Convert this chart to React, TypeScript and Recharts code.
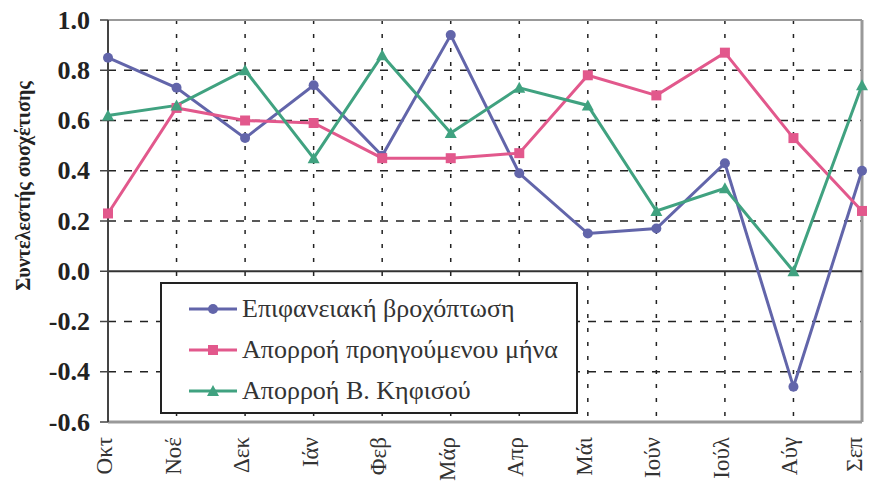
import React from "react";
import {
  LineChart,
  Line,
  XAxis,
  YAxis,
  CartesianGrid,
  ReferenceLine,
  Customized,
} from "recharts";

const MONTHS = ["Οκτ", "Νοέ", "Δεκ", "Ιάν", "Φεβ", "Μάρ", "Απρ", "Μάι", "Ιούν", "Ιούλ", "Αύγ", "Σεπ"];
const RAIN = [0.85, 0.73, 0.53, 0.74, 0.46, 0.94, 0.39, 0.15, 0.17, 0.43, -0.46, 0.4];
const PREV_RUNOFF = [0.23, 0.65, 0.6, 0.59, 0.45, 0.45, 0.47, 0.78, 0.7, 0.87, 0.53, 0.24];
const KIFISOS = [0.62, 0.66, 0.8, 0.45, 0.86, 0.55, 0.73, 0.66, 0.24, 0.33, 0.0, 0.74];
const Y_TICKS = [-0.6, -0.4, -0.2, 0.0, 0.2, 0.4, 0.6, 0.8, 1.0];
const GRID_Y = [-0.4, -0.2, 0.2, 0.4, 0.6, 0.8];

const SERIES = [
  { key: "rain", name: "Επιφανειακή βροχόπτωση", color: "#6265aa", shape: "circle" },
  { key: "prev", name: "Απορροή προηγούμενου μήνα", color: "#e2588c", shape: "square" },
  { key: "kif", name: "Απορροή Β. Κηφισού", color: "#40a280", shape: "triangle" },
];

const data = MONTHS.map((m, i) => ({
  month: m,
  rain: RAIN[i],
  prev: PREV_RUNOFF[i],
  kif: KIFISOS[i],
}));

const FONT = "'Liberation Serif', 'Times New Roman', serif";

function Marker({ cx, cy, shape, color }: { cx: number; cy: number; shape: string; color: string }) {
  if (cx == null || cy == null) return null;
  if (shape === "square") return <rect x={cx - 5} y={cy - 5} width={10} height={10} fill={color} />;
  if (shape === "triangle")
    return <polygon points={`${cx},${cy - 6} ${cx + 6},${cy + 5} ${cx - 6},${cy + 5}`} fill={color} />;
  return <circle cx={cx} cy={cy} r={5} fill={color} />;
}

function XTick({ x, payload }: any) {
  // rotated labels, last one kept inside the picture
  const tx = Math.min(x + 4, 862);
  const ty = 437;
  return (
    <text
      x={tx}
      y={ty}
      transform={`rotate(-90 ${tx} ${ty})`}
      textAnchor="end"
      fontFamily={FONT}
      fontSize={23}
      fill="#333"
    >
      {payload.value}
    </text>
  );
}

function YTick({ x, y, payload }: any) {
  return (
    <text
      x={x}
      y={y}
      textAnchor="end"
      dominantBaseline="central"
      fontFamily={FONT}
      fontSize={26}
      fontWeight="bold"
      fill="#222"
    >
      {Number(payload.value).toFixed(1)}
    </text>
  );
}

function YLabel() {
  return (
    <text
      x={23}
      y={186}
      transform="rotate(-90 23 186)"
      textAnchor="middle"
      dominantBaseline="central"
      fontFamily={FONT}
      fontWeight="bold"
      fontSize={20}
      fill="#222"
    >
      Συντελεστής συσχέτισης
    </text>
  );
}

function LegendBox() {
  return (
    <div
      style={{
        position: "absolute",
        left: 160,
        top: 282,
        width: 414,
        height: 124,
        background: "#fff",
        border: "2px solid #222",
        fontFamily: FONT,
        fontSize: 26,
        color: "#333",
        paddingTop: 4,
        boxSizing: "content-box",
        whiteSpace: "nowrap",
      }}
    >
      {SERIES.map((s) => (
        <div key={s.key} style={{ display: "flex", alignItems: "center", height: 41, paddingLeft: 27 }}>
          <svg width={48} height={16} style={{ marginRight: 5, flexShrink: 0 }}>
            <line x1={0} y1={8} x2={48} y2={8} stroke={s.color} strokeWidth={3} />
            <Marker cx={24} cy={8} shape={s.shape} color={s.color} />
          </svg>
          <span>{s.name}</span>
        </div>
      ))}
    </div>
  );
}

export default function App() {
  return (
    <div style={{ position: "absolute", left: 0, top: 0, width: 869, height: 485, background: "#fff" }}>
      <LineChart width={869} height={485} data={data} margin={{ top: 20, right: 7, bottom: 0, left: 0 }}>
        <CartesianGrid horizontal={false} stroke="#222" strokeWidth={1.5} strokeDasharray="4 10" />
        {GRID_Y.map((v) => (
          <ReferenceLine key={v} y={v} stroke="#222" strokeWidth={1.5} strokeDasharray="8 8" />
        ))}
        <ReferenceLine y={1.0} stroke="#999" strokeWidth={2} />
        <ReferenceLine x="Σεπ" stroke="#999" strokeWidth={3} />
        <ReferenceLine y={0} stroke="#333" strokeWidth={2} />
        <XAxis
          dataKey="month"
          height={63}
          interval={0}
          tickLine={false}
          axisLine={{ stroke: "#999", strokeWidth: 3 }}
          tick={<XTick />}
        />
        <YAxis
          width={108}
          domain={[-0.6, 1.0]}
          ticks={Y_TICKS}
          interval={0}
          tickSize={8}
          tickMargin={10}
          tick={<YTick />}
          tickLine={{ stroke: "#444", strokeWidth: 1.5 }}
          axisLine={{ stroke: "#444", strokeWidth: 2 }}
        />
        {SERIES.map((s) => (
          <Line
            key={s.key}
            dataKey={s.key}
            name={s.name}
            type="linear"
            stroke={s.color}
            strokeWidth={3}
            dot={(p: any) => <Marker key={`${s.key}-${p.index}`} cx={p.cx} cy={p.cy} shape={s.shape} color={s.color} />}
            activeDot={false}
            isAnimationActive={false}
          />
        ))}
        <Customized component={YLabel} />
      </LineChart>
      <LegendBox />
    </div>
  );
}
